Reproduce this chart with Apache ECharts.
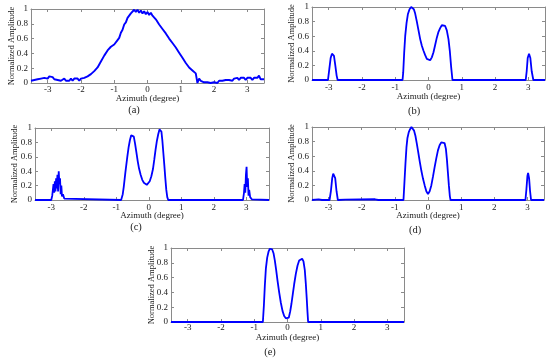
<!DOCTYPE html>
<html><head><meta charset="utf-8">
<script src="https://cdn.jsdelivr.net/npm/echarts@6/dist/echarts.min.js"></script>
<style>html,body{margin:0;padding:0;background:#fff}#c{width:550px;height:361px}</style>
</head><body><div id="c"></div>
<script>
// ---------- data (azimuth in degrees, normalized amplitude) ----------
const xAxisTitle = 'Azimuth (degree)';
const yAxisTitle = 'Normalized Amplitude';
const panelLabels = ['(a)', '(b)', '(c)', '(d)', '(e)'];

const aX = [-3.5,-3.45,-3.4,-3.35,-3.3,-3.25,-3.2,-3.15,-3.1,-3.05,
  -3,-2.95,-2.9,-2.85,-2.8,-2.75,-2.7,-2.65,-2.6,-2.55,
  -2.5,-2.45,-2.4,-2.35,-2.3,-2.25,-2.2,-2.15,-2.1,-2.05,
  -2,-1.95,-1.9,-1.85,-1.8,-1.75,-1.7,-1.65,-1.6,-1.55,
  -1.5,-1.45,-1.4,-1.35,-1.3,-1.25,-1.2,-1.15,-1.1,-1.05,
  -1,-0.95,-0.9,-0.85,-0.8,-0.75,-0.7,-0.65,-0.6,-0.55,
  -0.5,-0.45,-0.4,-0.35,-0.3,-0.25,-0.2,-0.15,-0.1,-0.05,
  0,0.05,0.1,0.15,0.2,0.25,0.3,0.35,0.4,0.45,
  0.5,0.55,0.6,0.65,0.7,0.75,0.8,0.85,0.9,0.95,
  1,1.05,1.1,1.15,1.2,1.25,1.3,1.35,1.4,1.45,
  1.5,1.55,1.6,1.65,1.7,1.75,1.8,1.85,1.9,1.95,
  2,2.05,2.1,2.15,2.2,2.25,2.3,2.35,2.4,2.45,
  2.5,2.55,2.6,2.65,2.7,2.75,2.8,2.85,2.9,2.95,
  3,3.05,3.1,3.15,3.2,3.25,3.3,3.35,3.4,3.45,3.5];
const aY = [0.03,0.01,0.04,0.02,0.05,0.03,0.06,0.04,0.07,0.08,
  0.06,0.09,0.07,0.08,0.05,0.06,0.04,0.05,0.03,0.05,
  0.06,0.03,0.05,0.03,0.06,0.03,0.06,0.04,0.06,0.03,
  0.06,0.04,0.07,0.05,0.09,0.08,0.12,0.11,0.16,0.16,
  0.21,0.23,0.29,0.31,0.37,0.39,0.44,0.45,0.49,0.49,
  0.52,0.53,0.58,0.61,0.68,0.72,0.79,0.82,0.88,0.89,
  0.94,0.95,0.99,0.96,0.99,0.95,0.98,0.94,0.97,0.93,
  0.96,0.92,0.95,0.91,0.91,0.86,0.85,0.79,0.78,0.73,
  0.72,0.67,0.65,0.6,0.59,0.54,0.53,0.48,0.46,0.41,
  0.4,0.34,0.33,0.27,0.25,0.21,0.21,0.17,0.17,0.13,
  0,0.06,0.03,0.04,0.01,0.03,0.01,0.02,0.0,0.02,
  0.01,0.02,0.0,0.03,0.01,0.03,0.02,0.04,0.02,0.04,
  0.05,0.03,0.06,0.04,0.07,0.04,0.07,0.05,0.07,0.04,
  0.07,0.05,0.07,0.04,0.07,0.05,0.07,0.1,0.05,0.03,0.05];

const bX = [-3.5,-3.02,-2.98,-2.94,-2.9,-2.87,-2.84,-2.8,-2.76,-2.73,
  -0.78,-0.76,-0.73,-0.7,-0.66,-0.62,-0.57,-0.52,-0.48,-0.44,-0.4,-0.35,-0.3,-0.25,-0.2,-0.15,-0.1,-0.05,
  0,0.05,0.1,0.15,0.2,0.25,0.3,0.35,0.4,0.45,0.5,0.55,0.6,0.64,0.68,0.72,
  2.92,2.95,2.98,3.02,3.06,3.1,3.15,3.5];
const bY = [0,0,0.15,0.3,0.36,0.37,0.33,0.2,0.06,0,
  0,0.1,0.38,0.6,0.78,0.9,0.97,1.0,1.0,0.97,0.91,0.8,0.68,0.56,0.47,0.4,0.34,0.29,
  0.27,0.27,0.31,0.38,0.48,0.58,0.66,0.71,0.75,0.76,0.74,0.68,0.56,0.4,0.18,0,
  0,0.12,0.3,0.36,0.3,0.12,0,0];

const cX = [-3.5,-3.0,-2.97,-2.95,-2.93,-2.91,-2.89,-2.87,-2.85,-2.83,-2.81,-2.79,-2.77,-2.75,-2.73,-2.71,-2.69,-2.67,-2.64,-2.6,-2.56,
  -0.85,-0.8,-0.77,-0.72,-0.66,-0.62,-0.58,-0.54,-0.5,-0.46,-0.42,-0.38,-0.34,-0.3,-0.25,-0.2,-0.15,-0.1,-0.06,-0.02,
  0.03,0.08,0.13,0.17,0.21,0.25,0.29,0.33,0.36,0.39,0.42,0.45,0.48,0.51,0.54,0.57,0.6,
  2.9,2.93,2.95,2.97,2.99,3.01,3.03,3.05,3.07,3.09,3.12,3.17,3.21,3.7];
const cY = [0,0,0.06,0.14,0.22,0.1,0.26,0.12,0.3,0.16,0.35,0.12,0.4,0.22,0.3,0.08,0.2,0.05,0.08,0.02,0,
  0,0.08,0.18,0.38,0.6,0.73,0.83,0.9,0.92,0.88,0.78,0.66,0.54,0.44,0.35,0.28,0.24,0.22,0.21,0.22,
  0.26,0.33,0.43,0.56,0.7,0.82,0.91,0.98,1.0,0.95,0.82,0.65,0.48,0.3,0.14,0.04,0,
  0,0.1,0.22,0.1,0.35,0.46,0.18,0.3,0.06,0.14,0.04,0.01,0,0];

const dX = [-3.5,-3.3,-3.2,-2.97,-2.93,-2.89,-2.86,-2.83,-2.8,-2.76,-2.72,-2.5,-1.6,-1.5,
  -0.74,-0.71,-0.68,-0.65,-0.62,-0.58,-0.54,-0.5,-0.46,-0.42,-0.38,-0.34,-0.3,-0.25,-0.2,-0.15,-0.1,-0.05,
  0,0.05,0.1,0.15,0.2,0.25,0.3,0.35,0.4,0.45,0.5,0.54,0.57,0.6,0.63,0.66,0.68,
  2.94,2.97,3.0,3.02,3.05,3.08,3.11,3.5];
const dY = [0,0.01,0,0,0.12,0.3,0.36,0.37,0.3,0.12,0,0.005,0.01,0,
  0,0.25,0.5,0.72,0.85,0.93,0.97,1.0,0.99,0.95,0.88,0.78,0.67,0.53,0.4,0.29,0.2,0.12,
  0.08,0.12,0.2,0.32,0.45,0.57,0.68,0.75,0.79,0.81,0.78,0.7,0.56,0.38,0.2,0.05,0,
  0,0.15,0.33,0.37,0.3,0.12,0,0];

const eX = [-3.5,-0.74,-0.71,-0.68,-0.65,-0.61,-0.57,-0.53,-0.5,-0.46,-0.42,-0.38,-0.34,-0.3,-0.25,-0.2,-0.15,-0.1,-0.05,
  0,0.04,0.08,0.12,0.16,0.2,0.25,0.3,0.35,0.4,0.44,0.48,0.52,0.55,0.58,0.6,0.62,3.5];
const eY = [0,0,0.22,0.5,0.72,0.87,0.95,0.99,1.0,0.98,0.93,0.83,0.7,0.56,0.4,0.26,0.15,0.08,0.05,
  0.035,0.06,0.14,0.25,0.38,0.51,0.65,0.76,0.83,0.85,0.855,0.82,0.7,0.52,0.3,0.14,0,0];

const yTickStep = 0.2;

// ---------- layout ----------
const FONT = '"Liberation Serif","Times New Roman",serif';
const panels = [
  {x:aX, y:aY, grid:{left:31, top:9, width:233, height:74}, xmin:-3.5, xmax:3.5, lm:2, ng:11.5, yng:15, lab:[134,110], lw:1.9},
  {x:bX, y:bY, grid:{left:312, top:7, width:233, height:73}, xmin:-3.5, xmax:3.5, lm:3.5, ng:12, yng:16, lab:[414,111], lw:1.8},
  {x:cX, y:cY, grid:{left:35, top:128, width:234, height:72}, xmin:-3.5, xmax:3.7, lm:3.5, ng:11, yng:16, lab:[136,227], lw:1.8},
  {x:dX, y:dY, grid:{left:312, top:127, width:232, height:73}, xmin:-3.5, xmax:3.5, lm:3, ng:11, yng:16, lab:[415,230], lw:1.8},
  {x:eX, y:eY, grid:{left:171, top:248, width:233, height:74}, xmin:-3.5, xmax:3.5, lm:1.5, ng:11, yng:15, lab:[270,352], lw:1.8}
];

const axisLineStyle = {color:'#8a8a8a', width:1};
const grids = [], xAxes = [], yAxes = [], series = [], graphics = [];
panels.forEach((p, i) => {
  grids.push(Object.assign({outerBoundsMode:'none', containLabel:false}, p.grid));
  const common = {type:'value', gridIndex:i, min:p.xmin, max:p.xmax, splitNumber:7,
    splitLine:{show:false}, axisLine:{show:true, onZero:false, lineStyle:axisLineStyle},
    axisTick:{show:true, inside:true, length:3, lineStyle:axisLineStyle}};
  xAxes.push(Object.assign({}, common, {position:'bottom',
    name:xAxisTitle, nameLocation:'middle', nameGap:p.ng, nameMoveOverlap:false,
    nameTextStyle:{fontFamily:FONT, fontSize:9, color:'#1a1a1a'},
    axisLabel:{show:true, margin:p.lm, fontFamily:FONT, fontSize:9, color:'#1a1a1a',
      showMinLabel:false, showMaxLabel:false,
      formatter: v => (Math.abs(v - Math.round(v)) < 1e-9 ? String(Math.round(v)) : '')}}));
  xAxes.push(Object.assign({}, common, {position:'top', axisLabel:{show:false}}));
  const ycommon = {type:'value', gridIndex:i, min:0, max:1, interval:yTickStep,
    splitLine:{show:false}, axisLine:{show:true, onZero:false, lineStyle:axisLineStyle},
    axisTick:{show:true, inside:true, length:3, lineStyle:axisLineStyle}};
  yAxes.push(Object.assign({}, ycommon, {position:'left',
    name:yAxisTitle, nameLocation:'middle', nameGap:p.yng, nameMoveOverlap:false,
    nameTextStyle:{fontFamily:FONT, fontSize:8.5, color:'#1a1a1a'},
    axisLabel:{show:true, margin:3, fontFamily:FONT, fontSize:9, color:'#1a1a1a'}}));
  yAxes.push(Object.assign({}, ycommon, {position:'right', axisLabel:{show:false}}));
  series.push({type:'line', xAxisIndex:2*i, yAxisIndex:2*i, showSymbol:false, symbol:'none',
    data:p.x.map((xv, k) => [xv, p.y[k]]), lineStyle:{color:'#0000ff', width:p.lw},
    itemStyle:{color:'#0000ff'}, animation:false, clip:true});
  graphics.push({type:'text', x:p.lab[0], y:p.lab[1],
    style:{text:panelLabels[i], font:'10.5px ' + FONT, fill:'#1a1a1a', align:'center', verticalAlign:'middle'}});
});

const chart = echarts.init(document.getElementById('c'), null, {renderer:'canvas'});
chart.setOption({animation:false, backgroundColor:'#fff', grid:grids, xAxis:xAxes, yAxis:yAxes, series:series, graphic:graphics});
</script></body></html>
